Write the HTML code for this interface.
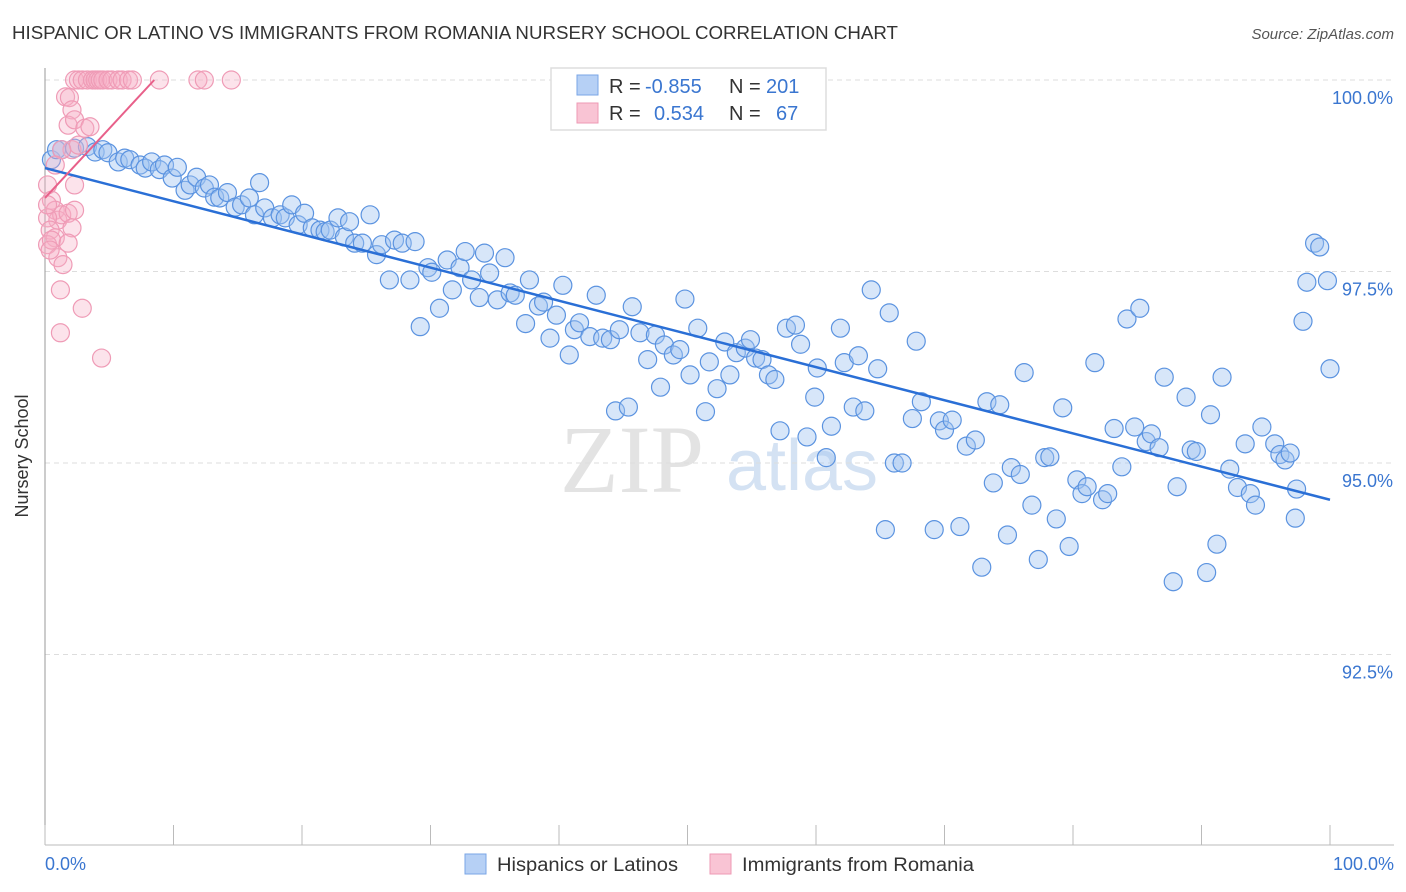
<!DOCTYPE html>
<html><head><meta charset="utf-8"><style>
body{margin:0;background:#fff;font-family:"Liberation Sans",sans-serif;}
svg{display:block}
</style></head><body>
<svg id="chart" width="1406" height="892" xmlns="http://www.w3.org/2000/svg">
<text x="12" y="39" font-size="18" fill="#333" textLength="886" lengthAdjust="spacingAndGlyphs">HISPANIC OR LATINO VS IMMIGRANTS FROM ROMANIA NURSERY SCHOOL CORRELATION CHART</text>
<text x="1394" y="39" font-size="15" fill="#555" font-style="italic" text-anchor="end">Source: ZipAtlas.com</text>
<g>
<text x="632" y="492" font-size="96" fill="#e3e3e3" font-family="Liberation Serif,serif" text-anchor="middle">ZIP</text>
<text x="802" y="490" font-size="72" fill="#d4e2f3" text-anchor="middle">atlas</text>
</g>
<g id="grid"></g>
<line x1="45" y1="68" x2="45" y2="845" stroke="#999" stroke-width="1"/>
<line x1="45" y1="845" x2="1394" y2="845" stroke="#bbb" stroke-width="1"/>
<g id="xticks"></g>
<g id="pts"></g>
<g id="lines"></g>
<text x="28" y="456" font-size="18" fill="#333" text-anchor="middle" transform="rotate(-90 28 456)">Nursery School</text>
<text x="45" y="870" font-size="18" fill="#3a76d0">0.0%</text>
<text x="1394" y="870" font-size="18" fill="#3a76d0" text-anchor="end">100.0%</text>
<g>
<rect x="551" y="68" width="275" height="62" fill="#fff" stroke="#ddd" stroke-width="1.5"/>
<rect x="577" y="75" width="21" height="20" fill="#b6d0f5" stroke="#7aa6e6"/>
<rect x="577" y="103" width="21" height="20" fill="#f9c4d4" stroke="#ee9ab4"/>
<text x="609" y="93" font-size="20" fill="#333">R = </text><text x="645" y="93" font-size="20" fill="#3a76d0">-0.855</text>
<text x="729" y="93" font-size="20" fill="#333">N = </text><text x="766" y="93" font-size="20" fill="#3a76d0">201</text>
<text x="609" y="120" font-size="20" fill="#333">R = </text><text x="654" y="120" font-size="20" fill="#3a76d0">0.534</text>
<text x="729" y="120" font-size="20" fill="#333">N = </text><text x="776" y="120" font-size="20" fill="#3a76d0">67</text>
</g>
<g>
<rect x="465" y="854" width="21" height="20" fill="#b6d0f5" stroke="#7aa6e6"/>
<text x="497" y="871" font-size="19" fill="#333" textLength="181" lengthAdjust="spacingAndGlyphs">Hispanics or Latinos</text>
<rect x="710" y="854" width="21" height="20" fill="#f9c4d4" stroke="#ee9ab4"/>
<text x="742" y="871" font-size="19" fill="#333" textLength="232" lengthAdjust="spacingAndGlyphs">Immigrants from Romania</text>
</g>
</svg>
<script>
const yTicks=[100,97.5,95,92.5];
const yTickLabels=["100.0%","97.5%","95.0%","92.5%"];
const xTicks=[0,10,20,30,40,50,60,70,80,90,100];
const blueX=[0.5,0.9,1.3,2.3,3.3,3.9,4.5,4.9,5.7,6.2,6.6,7.4,7.8,8.3,8.9,9.3,9.9,10.3,10.9,11.3,11.8,12.4,12.8,13.2,13.6,14.2,14.8,15.3,15.9,16.3,16.7,17.1,17.7,18.3,18.7,19.2,19.7,20.2,20.8,21.4,21.8,22.2,22.8,23.3,23.7,24.1,24.7,25.3,25.8,26.2,26.8,27.2,27.8,28.4,28.8,29.2,29.8,30.1,30.7,31.3,31.7,32.3,32.7,33.2,33.8,34.2,34.6,35.2,35.8,36.2,36.6,37.4,37.7,38.4,38.8,39.3,39.8,40.3,40.8,41.2,41.6,42.4,42.9,43.4,44.0,44.4,44.7,45.4,45.7,46.3,46.9,47.5,47.9,48.2,48.9,49.4,49.8,50.2,50.8,51.4,51.7,52.3,52.9,53.3,53.8,54.5,54.9,55.3,55.8,56.3,56.8,57.2,57.7,58.4,58.8,59.3,59.9,60.1,60.8,61.2,61.9,62.2,62.9,63.3,63.8,64.3,64.8,65.4,65.7,66.1,66.7,67.5,67.8,68.2,69.2,69.6,70.0,70.6,71.2,71.7,72.4,72.9,73.3,73.8,74.3,74.9,75.2,75.9,76.2,76.8,77.3,77.8,78.2,78.7,79.2,79.7,80.3,80.7,81.1,81.7,82.3,82.7,83.2,83.8,84.2,84.8,85.2,85.7,86.1,86.7,87.1,87.8,88.1,88.8,89.2,89.6,90.4,90.7,91.2,91.6,92.2,92.8,93.4,93.8,94.2,94.7,95.7,96.1,96.5,96.9,97.4,97.3,97.9,98.2,98.8,99.2,99.8,100.0];
const blueY=[98.96,99.09,99.09,99.11,99.13,99.06,99.09,99.05,98.93,98.98,98.96,98.89,98.85,98.93,98.83,98.89,98.72,98.86,98.56,98.63,98.73,98.59,98.63,98.47,98.46,98.53,98.34,98.37,98.46,98.24,98.66,98.33,98.20,98.24,98.20,98.37,98.11,98.26,98.07,98.04,98.02,98.04,98.20,97.95,98.15,97.87,97.87,98.24,97.72,97.85,97.39,97.91,97.87,97.39,97.89,96.78,97.55,97.49,97.02,97.65,97.26,97.55,97.76,97.39,97.16,97.74,97.48,97.13,97.68,97.22,97.19,96.82,97.39,97.05,97.10,96.63,96.93,97.32,96.41,96.74,96.83,96.65,97.19,96.63,96.61,95.68,96.74,95.73,97.04,96.70,96.35,96.67,95.99,96.54,96.41,96.48,97.14,96.15,96.76,95.67,96.32,95.97,96.58,96.15,96.44,96.50,96.61,96.37,96.35,96.15,96.09,95.42,96.76,96.80,96.55,95.34,95.86,96.24,95.07,95.48,96.76,96.31,95.73,96.40,95.68,97.26,96.23,94.13,96.96,95.00,95.00,95.58,96.59,95.80,94.13,95.55,95.43,95.56,94.17,95.22,95.30,93.64,95.80,94.74,95.76,94.06,94.94,94.85,96.18,94.45,93.74,95.07,95.08,94.27,95.72,93.91,94.78,94.60,94.69,96.31,94.52,94.60,95.45,94.95,96.88,95.47,97.02,95.28,95.38,95.20,96.12,93.45,94.69,95.86,95.17,95.15,93.57,95.63,93.94,96.12,94.92,94.68,95.25,94.60,94.45,95.47,95.25,95.11,95.04,95.13,94.66,94.28,96.85,97.36,97.87,97.82,97.38,96.23];
const pinkX=[2.3,2.6,2.9,3.3,3.7,3.9,4.1,4.3,4.5,4.9,5.2,5.7,6.0,6.5,6.8,8.9,11.9,12.4,14.5,1.6,1.9,2.1,1.8,2.3,3.1,3.5,2.1,2.6,1.3,0.8,0.2,0.5,0.8,1.0,1.3,1.8,2.1,0.2,0.4,0.8,0.2,0.5,1.8,1.0,1.4,1.2,2.9,1.2,4.4,2.3,2.3,0.2,0.4];
const pinkY=[100,100,100,100,100,100,100,100,100,100,100,100,100,100,100,100,100,100,100,99.78,99.77,99.61,99.41,99.48,99.37,99.39,99.09,99.15,99.09,98.89,98.63,98.43,98.30,98.17,98.24,98.26,98.07,98.20,98.04,97.94,97.85,97.91,97.87,97.68,97.59,97.26,97.02,96.70,96.37,98.63,98.30,98.37,97.78];
const blueTrend=[[0,98.85],[100,94.52]];
const pinkTrend=[[0,98.46],[8.5,100]];
const NS='http://www.w3.org/2000/svg';
const xs=v=>45+v*12.85;
const ys=v=>80+(100-v)*76.6;
function mk(tag,attrs,parent){const e=document.createElementNS(NS,tag);for(const k in attrs)e.setAttribute(k,attrs[k]);parent.appendChild(e);return e;}
const grid=document.getElementById('grid');
yTicks.forEach((t,i)=>{
  const l=mk('line',{x1:45,x2:1394,y1:ys(t),y2:ys(t),stroke:'#ddd','stroke-dasharray':'5,4'},grid);
  
  
  const tx=mk('text',{x:1393,y:ys(t)+24,'font-size':18,fill:'#3a76d0','text-anchor':'end'},grid);
  tx.textContent=yTickLabels[i];
  
  
});
const xt=document.getElementById('xticks');
xTicks.forEach(t=>{
  const l=mk('line',{x1:xs(t),x2:xs(t),y1:825,y2:845,stroke:'#bbb'},xt);
  
  
});
const pts=document.getElementById('pts');
blueX.forEach((x,i)=>{
  const c=mk('circle',{cx:xs(x),cy:ys(blueY[i]),r:9,fill:'rgba(160,196,240,0.42)',stroke:'#5b93e0','stroke-width':1.2},pts);
  
  
});
pinkX.forEach((x,i)=>{
  const c=mk('circle',{cx:xs(x),cy:ys(pinkY[i]),r:9,fill:'rgba(246,176,198,0.35)',stroke:'#ef9bb6','stroke-width':1.2},pts);
  
  
});
const lines=document.getElementById('lines');
const bl=mk('line',{x1:xs(blueTrend[0][0]),y1:ys(blueTrend[0][1]),x2:xs(blueTrend[1][0]),y2:ys(blueTrend[1][1]),stroke:'#2a6fd6','stroke-width':2.5},lines);


const pl=mk('line',{x1:xs(pinkTrend[0][0]),y1:ys(pinkTrend[0][1]),x2:xs(pinkTrend[1][0]),y2:ys(pinkTrend[1][1]),stroke:'#e8608a','stroke-width':2},lines);


</script>
</body></html>
